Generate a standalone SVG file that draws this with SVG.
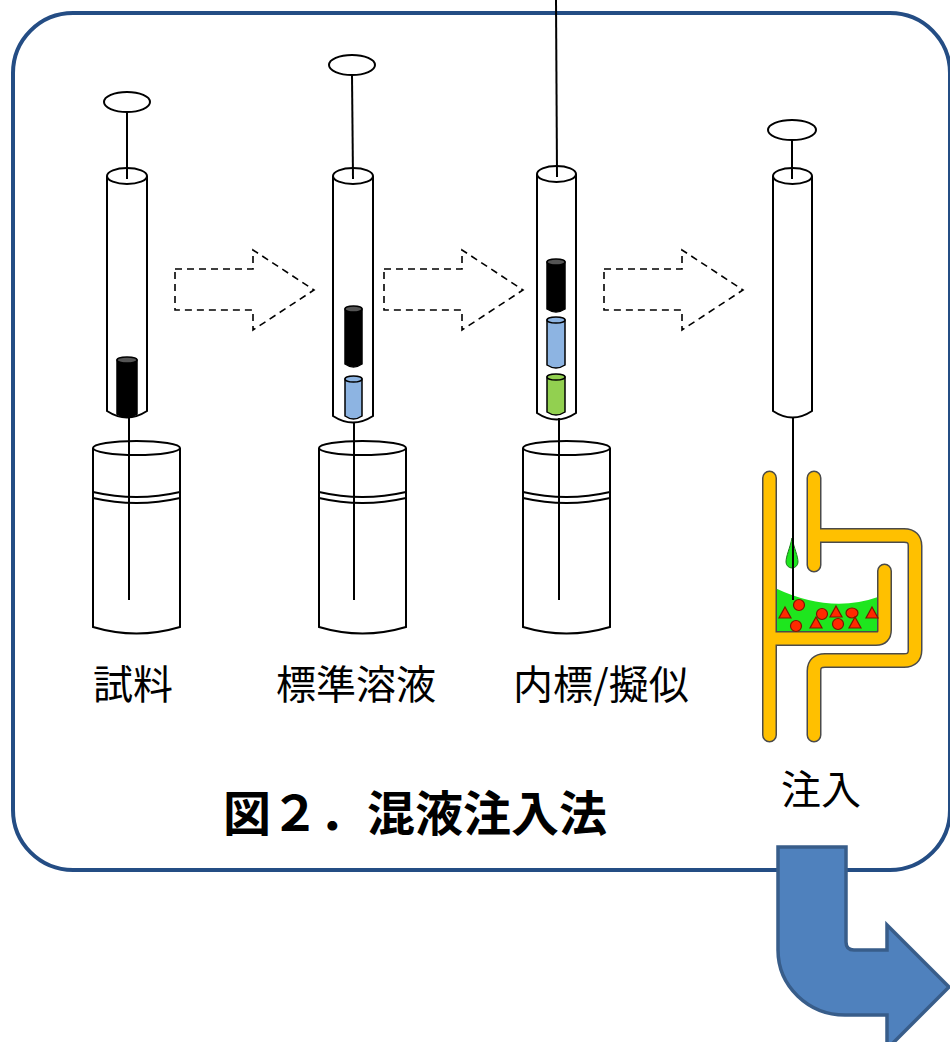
<svg xmlns="http://www.w3.org/2000/svg" width="950" height="1042" viewBox="0 0 950 1042">
  <style>
    .ln { fill: none; stroke: #000; stroke-width: 2; }
    .body { fill: #fff; stroke: #000; stroke-width: 2; }
    .plug-k { fill: #000; stroke: #000; stroke-width: 1.5; }
    .plug-b { fill: #8db4e2; stroke: #000; stroke-width: 1.5; }
    .plug-g { fill: #92d050; stroke: #000; stroke-width: 1.5; }
    .cap-k { fill: #555; stroke: #000; stroke-width: 1.5; }
    .dash { fill: #fff; stroke: #000; stroke-width: 1.6; stroke-dasharray: 7 5; }
    .tube-o { fill: none; stroke: #4a4a4a; stroke-width: 15; stroke-linecap: round; stroke-linejoin: round; }
    .tube-y { fill: none; stroke: #ffc000; stroke-width: 12; stroke-linecap: round; stroke-linejoin: round; }
    .p { fill: #ff2a00; stroke: #7a1800; stroke-width: 1.2; }
    .lbl { font-family: "Noto Sans CJK JP", sans-serif; font-size: 40px; fill: #000; }
    .ttl { font-family: "Noto Sans CJK JP", sans-serif; font-size: 48px; font-weight: bold; fill: #000; }
  </style>

  <!-- outer frame -->
  <rect id="frame" x="13" y="13" width="937" height="857" rx="60" ry="60" fill="#fff" stroke="#244d84" stroke-width="4"/>

  <!-- transfer arrows between steps -->
  <g id="connectors">
    <path class="dash" d="M175,269 L253,269 L253,250 L314,290 L253,330 L253,310 L175,310 Z"/>
    <path class="dash" d="M384,269 L462,269 L462,250 L523,290 L462,330 L462,310 L384,310 Z"/>
    <path class="dash" d="M604,269 L682,269 L682,250 L743,290 L682,330 L682,310 L604,310 Z"/>
  </g>

  <!-- step 1: sample -->
  <g id="vial1">
    <path class="body" d="M93,448 L93,627 Q136.5,640 180,627 L180,448"/>
    <ellipse class="body" cx="136.5" cy="448" rx="43.5" ry="7"/>
    <path class="ln" d="M93,492 Q136.5,502 180,492 M93,498 Q136.5,508 180,498" stroke-width="1.6"/>
  </g>
  <g id="syringe1">
    <ellipse class="body" cx="127" cy="102" rx="23" ry="10"/>
    <path class="body" d="M107,176 L107,411 Q127,424 147,411 L147,176"/>
    <ellipse class="body" cx="127" cy="176" rx="20" ry="8"/>
    <line class="ln" x1="127" y1="112" x2="127" y2="179"/>
    <path class="plug-k" d="M117,360 L117,414 Q127,420 137,414 L137,360 Z"/>
    <ellipse class="cap-k" cx="127" cy="360" rx="10" ry="3"/>
    <line class="ln" x1="129" y1="418" x2="129" y2="600"/>
  </g>
  <text id="label1" class="lbl" x="93" y="699">試料</text>

  <!-- step 2: standard solution -->
  <g id="vial2">
    <path class="body" d="M319,448 L319,627 Q362.5,640 406,627 L406,448"/>
    <ellipse class="body" cx="362.5" cy="448" rx="43.5" ry="7"/>
    <path class="ln" d="M319,492 Q362.5,502 406,492 M319,498 Q362.5,508 406,498" stroke-width="1.6"/>
  </g>
  <g id="syringe2">
    <ellipse class="body" cx="352" cy="65" rx="23" ry="10"/>
    <path class="body" d="M333,176 L333,416 Q353,429 373,416 L373,176"/>
    <ellipse class="body" cx="353" cy="176" rx="20" ry="8"/>
    <line class="ln" x1="352" y1="75" x2="353" y2="179"/>
    <path class="plug-k" d="M345,309 L345,364 Q353.5,370 362,364 L362,309 Z"/>
    <ellipse class="cap-k" cx="353.5" cy="309" rx="8.5" ry="3"/>
    <path class="plug-b" d="M345,379 L345,416 Q353.5,422 362,416 L362,379 Z"/>
    <ellipse class="plug-b" cx="353.5" cy="379" rx="8.5" ry="3"/>
    <line class="ln" x1="354" y1="422" x2="354" y2="600"/>
  </g>
  <text id="label2" class="lbl" x="276" y="699">標準溶液</text>

  <!-- step 3: internal standard / surrogate -->
  <g id="vial3">
    <path class="body" d="M523,448 L523,627 Q566.5,640 610,627 L610,448"/>
    <ellipse class="body" cx="566.5" cy="448" rx="43.5" ry="7"/>
    <path class="ln" d="M523,492 Q566.5,502 610,492 M523,498 Q566.5,508 610,498" stroke-width="1.6"/>
  </g>
  <g id="syringe3">
    <path class="body" d="M537,174 L537,413 Q556.5,426 576,413 L576,174"/>
    <ellipse class="body" cx="556.5" cy="174" rx="19.5" ry="8"/>
    <line class="ln" x1="556" y1="0" x2="557" y2="177"/>
    <path class="plug-k" d="M547,262 L547,309 Q556,315 565,309 L565,262 Z"/>
    <ellipse class="cap-k" cx="556" cy="262" rx="9" ry="3"/>
    <path class="plug-b" d="M547,320 L547,365 Q556,371 565,365 L565,320 Z"/>
    <ellipse class="plug-b" cx="556" cy="320" rx="9" ry="3"/>
    <path class="plug-g" d="M547,377 L547,412 Q556,418 565,412 L565,377 Z"/>
    <ellipse class="plug-g" cx="556" cy="377" rx="9" ry="3"/>
    <line class="ln" x1="559" y1="418" x2="559" y2="600"/>
  </g>
  <text id="label3" class="lbl" x="513" y="699">内標/擬似</text>

  <!-- step 4: injection into the vaporizer -->
  <g id="syringe4">
    <ellipse class="body" cx="792" cy="130" rx="24" ry="10"/>
    <path class="body" d="M773,176 L773,411 Q792.5,424 812,411 L812,176"/>
    <ellipse class="body" cx="792.5" cy="176" rx="19.5" ry="8"/>
    <line class="ln" x1="792" y1="140" x2="792" y2="179"/>
  </g>
  <g id="injector">
    <path d="M775,588 Q830,614 878,597 L878,633 L775,633 Z" fill="#1ee61e"/>
    <path class="tube-o" d="M769.5,478 L769.5,735 M769.5,638.5 L876,638.5 Q884.5,638.5 884.5,630 L884.5,571"/>
    <path class="tube-o" d="M814,478 L814,565 M814,535.5 L904,535.5 Q915,535.5 915,546 L915,650 Q915,660.5 904,660.5 L825,660.5 Q814,660.5 814,671 L814,735"/>
    <path class="tube-y" d="M769.5,478 L769.5,735 M769.5,638.5 L876,638.5 Q884.5,638.5 884.5,630 L884.5,571"/>
    <path class="tube-y" d="M814,478 L814,565 M814,535.5 L904,535.5 Q915,535.5 915,546 L915,650 Q915,660.5 904,660.5 L825,660.5 Q814,660.5 814,671 L814,735"/>
    <path d="M792,538 C790,548 786,556 786,562 A6,6 0 0 0 798,562 C798,556 794,548 792,538 Z" fill="#1ee61e" stroke="#1a7a1a" stroke-width="1"/>
    <circle class="p" cx="799" cy="605" r="5.5"/>
    <circle class="p" cx="796" cy="626" r="5.5"/>
    <circle class="p" cx="822" cy="614" r="5.5"/>
    <circle class="p" cx="838" cy="624" r="5.5"/>
    <ellipse class="p" cx="852" cy="613" rx="6" ry="5"/>
    <path class="p" d="M785,607 L791,618 L779,618 Z"/>
    <path class="p" d="M816,617 L822,628 L810,628 Z"/>
    <path class="p" d="M836,606 L842,617 L830,617 Z"/>
    <path class="p" d="M855,617 L861,628 L849,628 Z"/>
    <path class="p" d="M872,607 L878,618 L866,618 Z"/>
    <line class="ln" x1="793" y1="418" x2="793" y2="600"/>
  </g>
  <text id="label4" class="lbl" x="781" y="804">注入</text>

  <text id="title" class="ttl" x="223" y="831">図２．混液注入法</text>

  <!-- bent block arrow leading out of the frame -->
  <path id="next-arrow" d="M778,847 L846,847 L846,942 Q846,950 854,950 L887,950 L887,925 L949,987 L887,1049 L887,1015 L845,1015 A67,65 0 0 1 778,950 Z" fill="#4f81bd" stroke="#385d8a" stroke-width="3.5" stroke-linejoin="miter"/>
</svg>
